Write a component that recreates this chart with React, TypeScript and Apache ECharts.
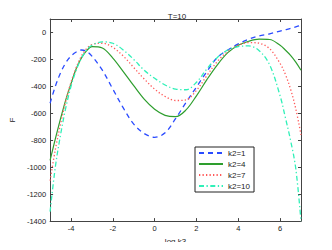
import React, { useEffect, useRef } from "react";
import * as echarts from "echarts";

const xs = [-5, -4.75, -4.5, -4.25, -4, -3.75, -3.5, -3.25, -3, -2.5, -2, -1.5, -1, -0.5, 0, 0.5, 1, 1.5, 2, 2.5, 3, 3.5, 4, 4.5, 5, 5.5, 6, 6.25, 6.5, 6.75, 7];
const k2_1 = [-525, -400, -300, -225, -175, -145, -130, -140, -175, -280, -420, -560, -680, -750, -778, -745, -640, -520, -405, -290, -185, -130, -85, -50, -25, -10, 10, 20, 30, 42, 54];
const k2_4 = [-950, -790, -640, -500, -380, -270, -190, -135, -105, -115, -190, -290, -395, -495, -570, -615, -625, -575, -470, -350, -240, -150, -95, -65, -50, -52, -95, -130, -170, -220, -280];
const k2_7 = [-1100, -870, -680, -510, -370, -260, -175, -120, -90, -80, -110, -175, -260, -345, -420, -475, -505, -500, -430, -320, -215, -140, -95, -75, -80, -120, -230, -310, -420, -566, -760];
const k2_10 = [-1330, -1000, -760, -560, -400, -280, -190, -130, -95, -70, -80, -130, -200, -280, -340, -390, -420, -425, -370, -270, -185, -130, -105, -100, -135, -240, -470, -630, -800, -1010, -1400];

const xTicks = [-4, -2, 0, 2, 4, 6];
const yTicks = [-1400, -1200, -1000, -800, -600, -400, -200, 0];
const seriesNames = ["k2=1", "k2=4", "k2=7", "k2=10"];

const font = "Liberation Sans, Arial, Helvetica, sans-serif";

export default function App() {
  const ref = useRef<HTMLDivElement>(null);
  useEffect(() => {
    if (!ref.current) return;
    const chart = echarts.init(ref.current, undefined, { renderer: "svg" });
    const pair = (arr: number[]) => xs.map((x, i) => [x, arr[i]]);
    const axisLine = { show: true, onZero: false, lineStyle: { color: "#444", width: 1 } };
    const tick = (vals: number[]) => ({ show: true, inside: true, length: 3, customValues: vals, lineStyle: { color: "#444" } });
    const mk = (name: string, arr: number[], color: string, type: any, width = 1.3) => ({
      name,
      type: "line",
      data: pair(arr),
      smooth: 0.35,
      symbol: "none",
      lineStyle: { color, width, type },
      itemStyle: { color },
      xAxisIndex: 0,
      yAxisIndex: 0,
    });
    chart.setOption({
      animation: false,
      backgroundColor: "#fff",
      title: {
        text: "T=10",
        left: 172,
        top: 7,
        textAlign: "center",
        textStyle: { fontSize: 8, fontWeight: "normal", color: "#222", fontFamily: font },
      },
      grid: { left: 43, right: 31, top: 19, bottom: 28, containLabel: false },
      legend: {
        orient: "vertical",
        left: 195,
        top: 147,
        data: seriesNames,
        borderColor: "#222",
        borderWidth: 1,
        padding: [2, 4, 2, 3],
        itemGap: 3,
        itemWidth: 24,
        itemHeight: 9,
        itemStyle: { opacity: 0 },
        textStyle: { fontSize: 8, color: "#222", fontFamily: font },
        backgroundColor: "#fff",
      },
      xAxis: [
        {
          type: "value",
          min: -5,
          max: 7,
          interval: 1,
          name: "log k3",
          nameLocation: "middle",
          nameGap: 11,
          nameTextStyle: { fontSize: 8, color: "#222", fontFamily: font },
          axisLine,
          axisTick: tick(xTicks),
          axisLabel: { customValues: xTicks, fontSize: 7.5, color: "#222", fontFamily: font, margin: 3, formatter: (v: number) => String(v) },
          splitLine: { show: false },
        },
        {
          type: "value",
          position: "top",
          min: -5,
          max: 7,
          interval: 1,
          axisLine,
          axisTick: tick(xTicks),
          axisLabel: { show: false },
          splitLine: { show: false },
        },
      ],
      yAxis: [
        {
          type: "value",
          min: -1400,
          max: 100,
          interval: 200,
          name: "F",
          nameLocation: "middle",
          nameGap: 30,
          nameRotate: 90,
          nameTextStyle: { fontSize: 8, color: "#222", fontFamily: font },
          axisLine,
          axisTick: tick(yTicks),
          axisLabel: { customValues: yTicks, fontSize: 7.5, color: "#222", fontFamily: font, margin: 4, formatter: (v: number) => String(v) },
          splitLine: { show: false },
        },
        {
          type: "value",
          position: "right",
          min: -1400,
          max: 100,
          interval: 200,
          axisLine,
          axisTick: tick(yTicks),
          axisLabel: { show: false },
          splitLine: { show: false },
        },
      ],
      series: [
        mk("k2=1", k2_1, "#2a4bff", [5, 4]),
        mk("k2=4", k2_4, "#2e9e2e", "solid", 1.2),
        mk("k2=7", k2_7, "#ff5a5a", [1.3, 2.2]),
        mk("k2=10", k2_10, "#30f0b8", [5, 2.5, 1.3, 2.5]),
      ],
    });
    return () => chart.dispose();
  }, []);
  return <div ref={ref} style={{ width: 332, height: 250, margin: -8 }} />;
}
